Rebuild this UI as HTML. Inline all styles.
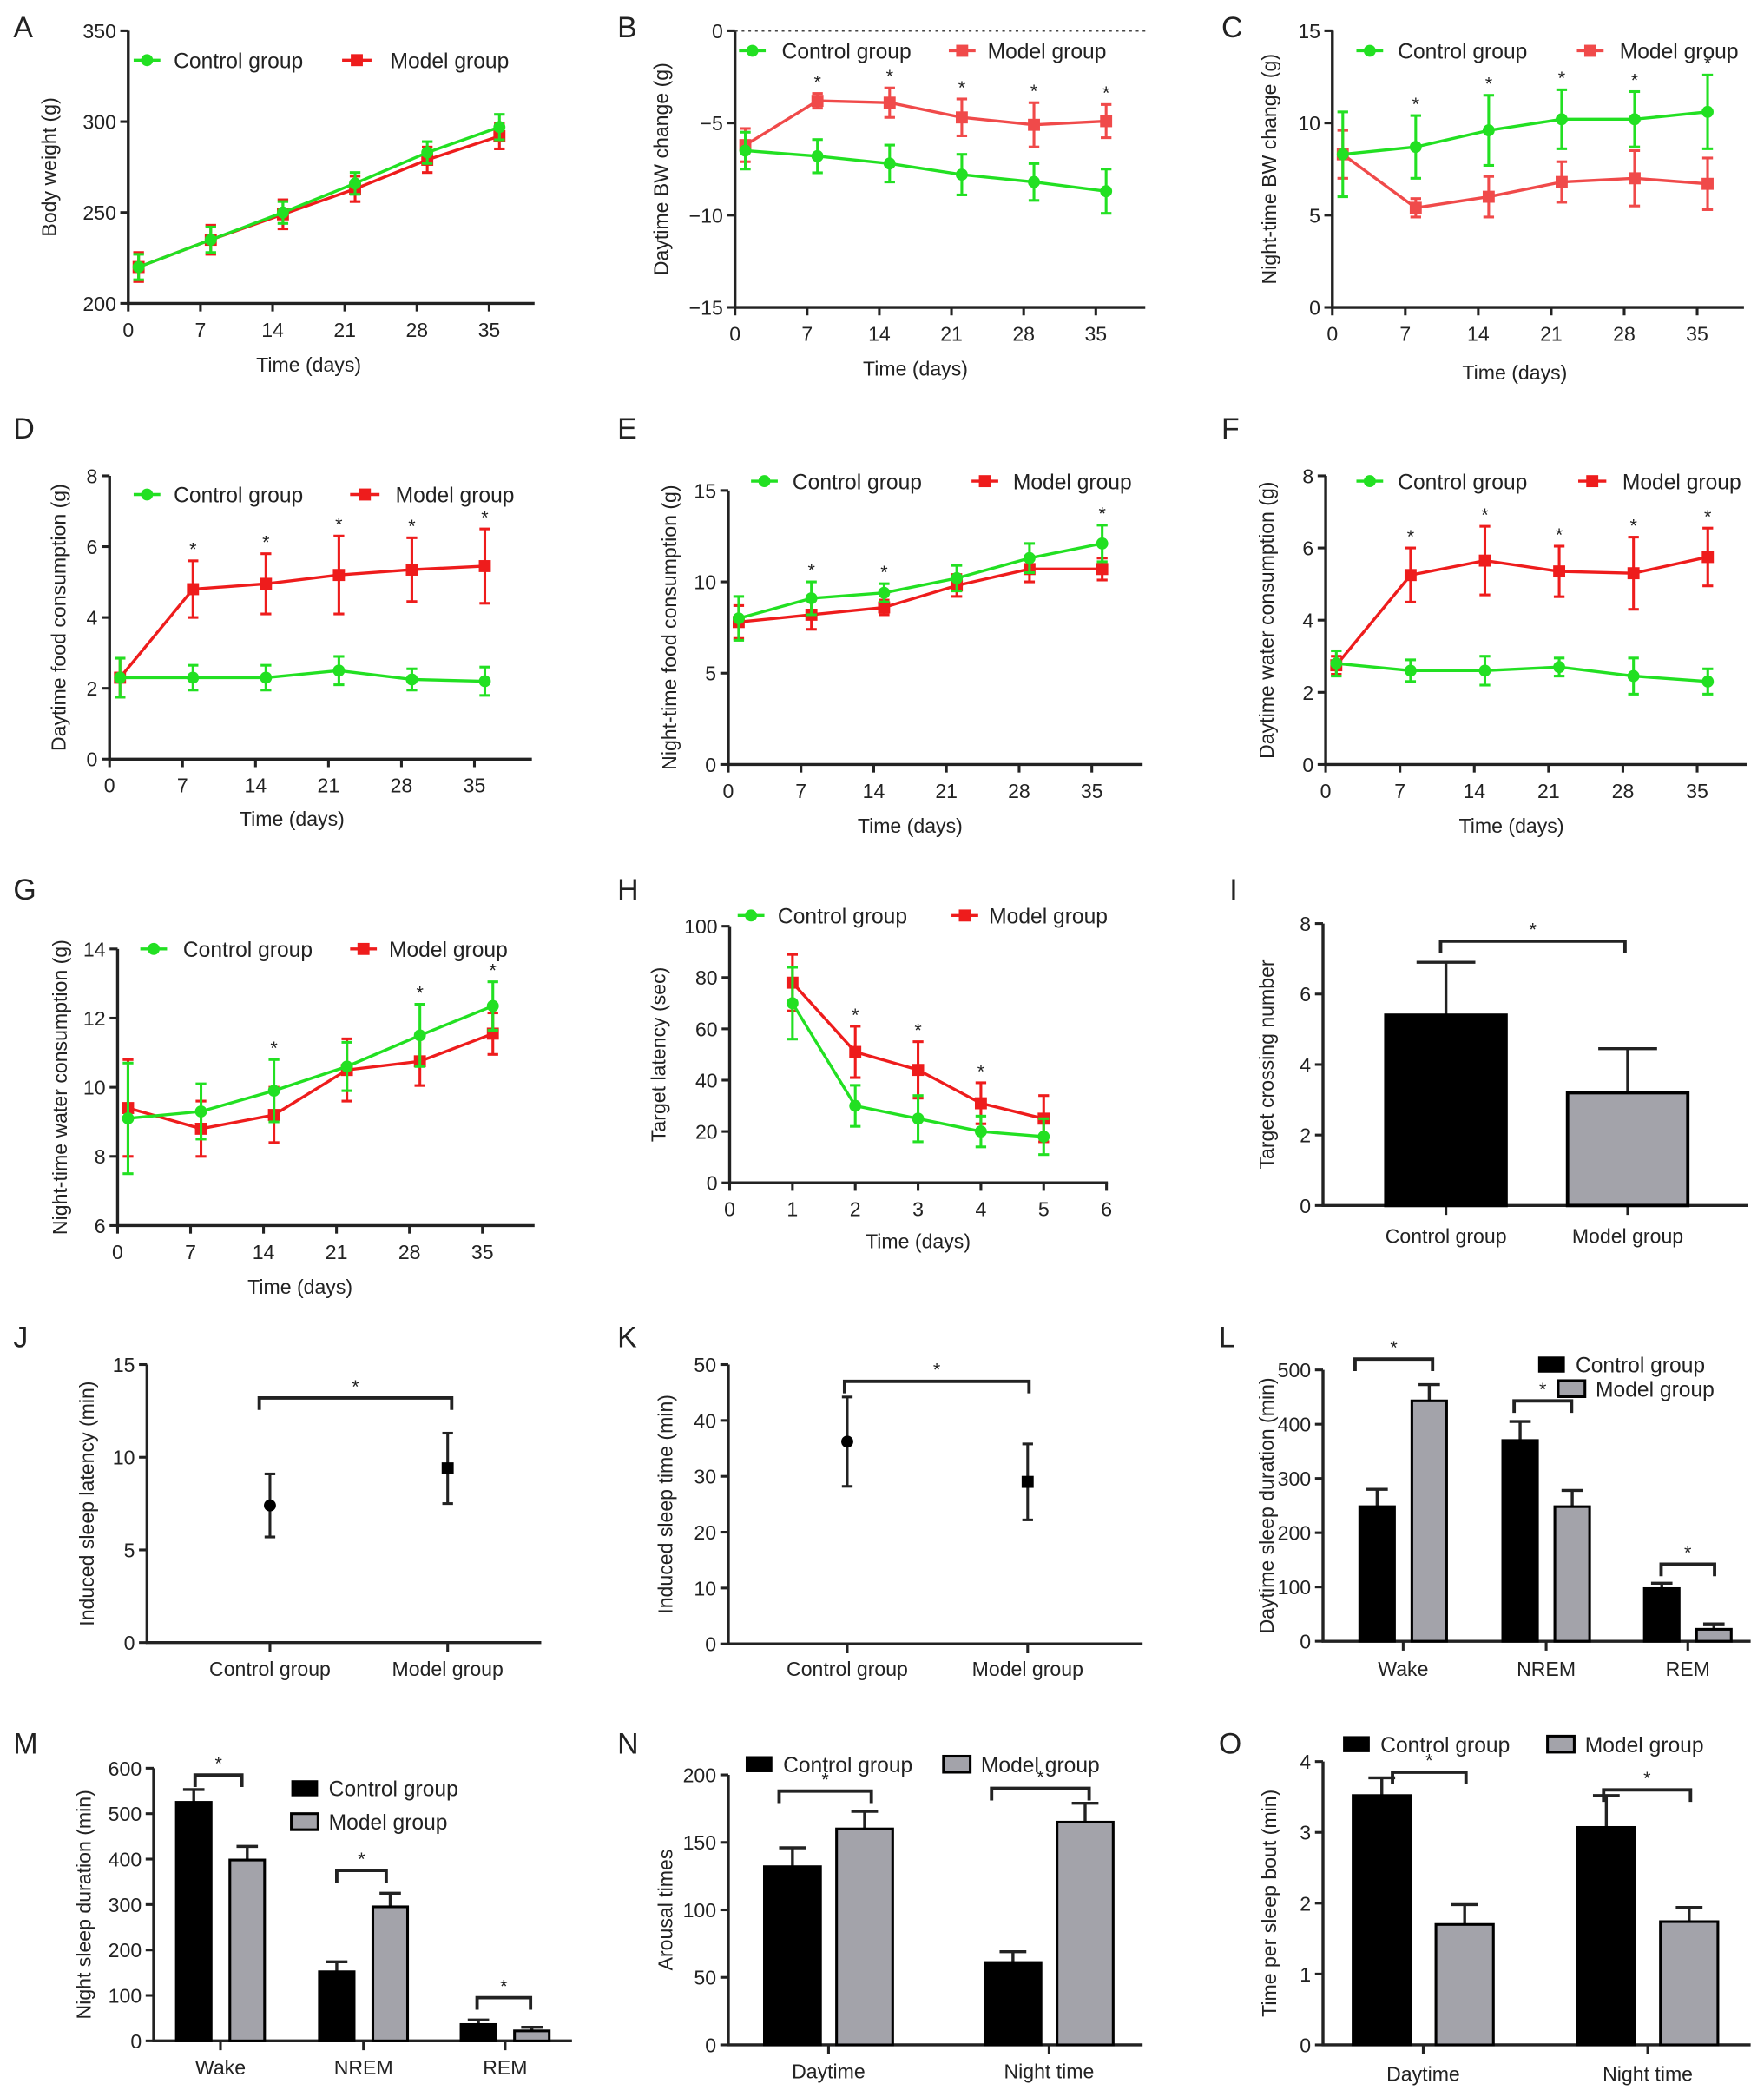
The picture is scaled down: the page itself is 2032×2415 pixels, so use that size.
<!DOCTYPE html>
<html><head><meta charset="utf-8"><style>
html,body{margin:0;padding:0;background:#fff;}
svg{display:block;font-family:"Liberation Sans",Arial,sans-serif;}
</style></head><body>
<svg id="fig" width="2032" height="2415" viewBox="0 0 1320 1569" preserveAspectRatio="none" xmlns="http://www.w3.org/2000/svg"></svg>
<script>
// ---------- data ----------
const days=[1,8,15,22,29,36];
const dayTicks=[0,7,14,21,28,35];
const aControl=[220,235,250,266,283,297], aControlErr=[7,7,6,6,6,7];
const aModel=[220,235,249,263,279,292], aModelErr=[8,8,8,7,7,7];
const bControl=[-6.5,-6.8,-7.2,-7.8,-8.2,-8.7], bControlErr=[1,0.9,1,1.1,1,1.2];
const bModel=[-6.2,-3.8,-3.9,-4.7,-5.1,-4.9], bModelErr=[0.9,0.4,0.8,1,1.2,0.9];
const cControl=[8.3,8.7,9.6,10.2,10.2,10.6], cControlErr=[2.3,1.7,1.9,1.6,1.5,2.0];
const cModel=[8.3,5.4,6.0,6.8,7.0,6.7], cModelErr=[1.3,0.5,1.1,1.1,1.5,1.4];
const dControl=[2.3,2.3,2.3,2.5,2.25,2.2], dControlErr=[0.55,0.35,0.35,0.4,0.3,0.4];
const dModel=[2.3,4.8,4.95,5.2,5.35,5.45], dModelErr=[0.55,0.8,0.85,1.1,0.9,1.05];
const eControl=[8.0,9.1,9.4,10.2,11.3,12.1], eControlErr=[1.2,0.9,0.5,0.7,0.8,1.0];
const eModel=[7.8,8.2,8.6,9.8,10.7,10.7], eModelErr=[0.9,0.8,0.4,0.6,0.7,0.6];
const fControl=[2.8,2.6,2.6,2.7,2.45,2.3], fControlErr=[0.35,0.3,0.4,0.25,0.5,0.35];
const fModel=[2.75,5.25,5.65,5.35,5.3,5.75], fModelErr=[0.25,0.75,0.95,0.7,1.0,0.8];
const gControl=[9.1,9.3,9.9,10.6,11.5,12.35], gControlErr=[1.6,0.8,0.9,0.7,0.9,0.7];
const gModel=[9.4,8.8,9.2,10.5,10.75,11.55], gModelErr=[1.4,0.8,0.8,0.9,0.7,0.6];
const hDays=[1,2,3,4,5], hTicks=[0,1,2,3,4,5,6];
const hControl=[70,30,25,20,18], hControlErr=[14,8,9,6,7];
const hModel=[78,51,44,31,25], hModelErr=[11,10,11,8,9];
const iCats=["Control group","Model group"], iValues=[5.4,3.2], iErr=[1.5,1.25];
const jCats=["Control group","Model group"], jValues=[7.4,9.4], jErr=[1.7,1.9];
const kCats=["Control group","Model group"], kValues=[36.2,29], kErr=[8,6.8];
const sleepCats=["Wake","NREM","REM"];
const lControl=[248,370,97], lControlErr=[32,35,10], lModel=[443,248,22], lModelErr=[30,30,10];
const mControl=[525,152,36], mControlErr=[28,22,10], mModel=[398,295,22], mModelErr=[30,30,8];
const timeCats=["Daytime","Night time"];
const nControl=[132,61], nControlErr=[14,8], nModel=[160,165], nModelErr=[13,14];
const oControl=[3.52,3.07], oControlErr=[0.25,0.45], oModel=[1.7,1.74], oModelErr=[0.28,0.2];

// ---------- helpers ----------
const NS="http://www.w3.org/2000/svg";
const svg=document.getElementById('fig');
const GREEN="#22e022", RED="#ee1c1c", LRED="#f04a4a", GRAY="#a3a3aa", TXT="#222";
function mk(tag,attrs,parent,name,inter){
  const e=document.createElementNS(NS,tag);
  for(const k in attrs) e.setAttribute(k,attrs[k]);
  
  
  (parent||svg).appendChild(e);
  return e;
}
function txt(s,x,y,size,parent,name,anchor,extra){
  const t=mk('text',Object.assign({x:x,y:y,'font-size':size,fill:TXT,'text-anchor':anchor||'middle'},extra||{}),parent,name,false);
  t.textContent=s;return t;
}
function line(x1,y1,x2,y2,col,w,parent,name,extra){
  return mk('line',Object.assign({x1:x1,y1:y1,x2:x2,y2:y2,stroke:col,'stroke-width':w},extra||{}),parent,name,false);
}
function fmt(v){return v<0?'\u2212'+(-v):String(v);}

function axes(g,P,sy,sx){
  // y axis
  line(P.ax,P.yTop,P.ax,P.yBot,TXT,2.2,g,'y-axis-line');
  P.yticks.forEach(v=>{const y=sy(v);line(P.ax-6,y,P.ax,y,TXT,2,g,'y-tick');
    txt(fmt(v),P.ax-9,y+5.5,15,g,'y-tick-label','end');});
  // x axis
  line(P.ax-1,P.yBot,P.xEnd,P.yBot,TXT,2.2,g,'x-axis-line');
  txt(P.ylabel,0,0,15,g,'y-axis-title','middle',{transform:`translate(${P.ylx},${(P.yTop+P.yBot)/2}) rotate(-90)`});
  txt(P.letter,P.lx,P.ly,22,g,'panel-label','start');
}

function linePanel(P){
  const g=mk('g',{},svg,'panel-'+P.letter.toLowerCase(),false);
  const sy=v=>P.yBot-(v-P.ymin)/(P.ymax-P.ymin)*(P.yBot-P.yTop);
  const sx=v=>P.ax+(v-P.xmin)/(P.xmax-P.xmin)*(P.xAtMax-P.ax);
  axes(g,P,sy,sx);
  P.xticks.forEach(v=>{const x=sx(v);line(x,P.yBot,x,P.yBot+6,TXT,2,g,'x-tick');
    txt(String(v),x,P.yBot+25,15,g,'x-tick-label');});
  txt('Time (days)',(P.ax+P.xAtMax)/2+(P.xtOff||0),P.xty,15,g,'x-axis-title');
  if(P.zeroLine) line(P.ax,sy(0),P.xEnd,sy(0),'#444',1.5,g,'zero-reference-line',{'stroke-dasharray':'2,3'});
  const series=[
    {vals:P.model,err:P.modelErr,col:P.mcol||RED,sq:true,name:'model'},
    {vals:P.control,err:P.controlErr,col:GREEN,sq:false,name:'control'}];
  series.forEach(s=>{
    const sg=mk('g',{},g,s.name+'-series',false);
    const pts=P.xs.map((d,i)=>sx(d)+','+sy(s.vals[i])).join(' ');
    mk('polyline',{points:pts,fill:'none',stroke:s.col,'stroke-width':2.2},sg,s.name+'-line',false);
    P.xs.forEach((d,i)=>{
      const x=sx(d),y=sy(s.vals[i]),t=sy(s.vals[i]+s.err[i]),b=sy(s.vals[i]-s.err[i]);
      line(x,t,x,b,s.col,2,sg,s.name+'-error-bar');
      line(x-4,t,x+4,t,s.col,2,sg,s.name+'-error-cap');
      line(x-4,b,x+4,b,s.col,2,sg,s.name+'-error-cap');
      if(s.sq) mk('rect',{x:x-4.5,y:y-4.5,width:9,height:9,fill:s.col},sg,s.name+'-point',false);
      else mk('circle',{cx:x,cy:y,r:4.5,fill:s.col},sg,s.name+'-point',false);
    });
  });
  P.stars.forEach(i=>{
    const top=Math.min(sy(P.control[i]+P.controlErr[i]),sy(P.model[i]+P.modelErr[i]));
    txt('*',sx(P.xs[i]),top-4,14,g,'significance-star');
  });
  // legend
  const L=P.leg;
  line(L.c[0],L.y,L.c[1],L.y,GREEN,2.2,g,'legend-control-line');
  mk('circle',{cx:(L.c[0]+L.c[1])/2,cy:L.y,r:4.5,fill:GREEN},g,'legend-control-marker',false);
  txt('Control group',L.c[2],L.y+6,16,g,'legend-control-label','start');
  line(L.m[0],L.y,L.m[1],L.y,P.mcol||RED,2.2,g,'legend-model-line');
  mk('rect',{x:(L.m[0]+L.m[1])/2-4.5,y:L.y-4.5,width:9,height:9,fill:P.mcol||RED},g,'legend-model-marker',false);
  txt('Model group',L.m[2],L.y+6,16,g,'legend-model-label','start');
}

function catAxis(g,P,cx){
  P.cats.forEach((c,i)=>{const x=cx[i];line(x,P.yBot,x,P.yBot+7,TXT,2,g,'x-tick');
    txt(c,x,P.catY,15,g,'x-category-label');});
}
function bracket(g,x1,x2,y,name){
  mk('polyline',{points:`${x1},${y+9} ${x1},${y} ${x2},${y} ${x2},${y+9}`,fill:'none',stroke:TXT,'stroke-width':2.5},g,name,false);
  txt('*',(x1+x2)/2,y-4,14,g,'significance-star');
}

function barPanel(P){
  const g=mk('g',{},svg,'panel-'+P.letter.toLowerCase(),false);
  const sy=v=>P.yBot-(v-P.ymin)/(P.ymax-P.ymin)*(P.yBot-P.yTop);
  axes(g,P,sy);
  catAxis(g,P,P.centers);
  const sets=P.single?[{v:P.values,e:P.err,fill:null}]:[{v:P.control,e:P.controlErr,fill:'#000',off:-P.off,name:'control'},{v:P.model,e:P.modelErr,fill:GRAY,off:P.off,name:'model'}];
  if(P.single){
    P.values.forEach((v,i)=>{
      const x=P.centers[i],y=sy(v),t=sy(v+P.err[i]);
      line(x,t,x,y,TXT,2.2,g,'error-bar');line(x-P.cap,t,x+P.cap,t,TXT,2.2,g,'error-cap');
      mk('rect',{x:x-P.bw/2,y:y,width:P.bw,height:P.yBot-y,fill:i==0?'#000':GRAY,stroke:'#000','stroke-width':2.5},g,'bar-'+(i==0?'control':'model'),false);
    });
  } else {
    sets.forEach(s=>{
      s.v.forEach((v,i)=>{
        const x=P.centers[i]+s.off,y=sy(v),t=sy(v+s.e[i]);
        line(x,t,x,y,TXT,2.2,g,s.name+'-error-bar');line(x-P.cap,t,x+P.cap,t,TXT,2.2,g,s.name+'-error-cap');
        mk('rect',{x:x-P.bw/2,y:y,width:P.bw,height:P.yBot-y,fill:s.fill,stroke:'#000','stroke-width':2},g,'bar-'+s.name+'-'+i,false);
      });
    });
  }
  P.brackets.forEach(b=>bracket(g,b[0],b[1],sy(b[2]),'significance-bracket'));
  if(P.leg){
    const L=P.leg;
    mk('rect',{x:L.c[0],y:L.c[1]-6,width:20,height:12,fill:'#000'},g,'legend-control-swatch',false);
    txt('Control group',L.c[0]+28,L.c[1]+6,16,g,'legend-control-label','start');
    mk('rect',{x:L.m[0],y:L.m[1]-6,width:20,height:12,fill:GRAY,stroke:'#000','stroke-width':2},g,'legend-model-swatch',false);
    txt('Model group',L.m[0]+28,L.m[1]+6,16,g,'legend-model-label','start');
  }
}

function dotPanel(P){
  const g=mk('g',{},svg,'panel-'+P.letter.toLowerCase(),false);
  const sy=v=>P.yBot-(v-P.ymin)/(P.ymax-P.ymin)*(P.yBot-P.yTop);
  axes(g,P,sy);
  catAxis(g,P,P.centers);
  P.values.forEach((v,i)=>{
    const x=P.centers[i],y=sy(v),t=sy(v+P.err[i]),b=sy(v-P.err[i]);
    line(x,t,x,b,TXT,2,g,'error-bar');line(x-4,t,x+4,t,TXT,2,g,'error-cap');line(x-4,b,x+4,b,TXT,2,g,'error-cap');
    if(i==0) mk('circle',{cx:x,cy:y,r:4.5,fill:'#000'},g,'control-point',false);
    else mk('rect',{x:x-4.5,y:y-4.5,width:9,height:9,fill:'#000'},g,'model-point',false);
  });
  P.brackets.forEach(b=>bracket(g,b[0],b[1],sy(b[2]),'significance-bracket'));
}

// ---------- panels ----------
linePanel({letter:'A',lx:10,ly:28,ax:96,xEnd:400,yTop:23,yBot:227,ymin:200,ymax:350,yticks:[200,250,300,350],
  xmin:0,xmax:35,xAtMax:366,xticks:dayTicks,xs:days,ylx:42,xty:278,ylabel:'Body weight (g)',
  control:aControl,controlErr:aControlErr,model:aModel,modelErr:aModelErr,stars:[],
  leg:{y:45,c:[100,120,130],m:[256,278,292]}});
linePanel({letter:'B',lx:462,ly:28,ax:550,xEnd:857,yTop:23,yBot:230,ymin:-15,ymax:0,yticks:[-15,-10,-5,0],
  xmin:0,xmax:35,xAtMax:820,xticks:dayTicks,xs:days,ylx:500,xty:281,ylabel:'Daytime BW change (g)',zeroLine:true,mcol:LRED,
  control:bControl,controlErr:bControlErr,model:bModel,modelErr:bModelErr,stars:[1,2,3,4,5],
  leg:{y:38,c:[553,573,585],m:[710,730,739]}});
linePanel({letter:'C',lx:914,ly:28,ax:997,xEnd:1305,yTop:23,yBot:230,ymin:0,ymax:15,yticks:[0,5,10,15],
  xmin:0,xmax:35,xAtMax:1270,xticks:dayTicks,xs:days,ylx:955,xty:284,ylabel:'Night-time BW change (g)',mcol:LRED,
  control:cControl,controlErr:cControlErr,model:cModel,modelErr:cModelErr,stars:[1,2,3,4,5],
  leg:{y:38,c:[1015,1035,1046],m:[1180,1200,1212]}});
linePanel({letter:'D',lx:10,ly:328,ax:82,xEnd:398,yTop:356,yBot:568,ymin:0,ymax:8,yticks:[0,2,4,6,8],
  xmin:0,xmax:35,xAtMax:355,xticks:dayTicks,xs:days,ylx:49,xty:618,ylabel:'Daytime food consumption (g)',
  control:dControl,controlErr:dControlErr,model:dModel,modelErr:dModelErr,stars:[1,2,3,4,5],
  leg:{y:370,c:[100,120,130],m:[262,284,296]}});
linePanel({letter:'E',lx:462,ly:328,ax:545,xEnd:855,yTop:367,yBot:572,ymin:0,ymax:15,yticks:[0,5,10,15],
  xmin:0,xmax:35,xAtMax:817,xticks:dayTicks,xs:days,ylx:506,xty:623,ylabel:'Night-time food consumption (g)',
  control:eControl,controlErr:eControlErr,model:eModel,modelErr:eModelErr,stars:[1,2,5],
  leg:{y:360,c:[562,582,593],m:[727,747,758]}});
linePanel({letter:'F',lx:914,ly:328,ax:992,xEnd:1307,yTop:356,yBot:572,ymin:0,ymax:8,yticks:[0,2,4,6,8],
  xmin:0,xmax:35,xAtMax:1270,xticks:dayTicks,xs:days,ylx:953,xty:623,ylabel:'Daytime water consumption (g)',
  control:fControl,controlErr:fControlErr,model:fModel,modelErr:fModelErr,stars:[1,2,3,4,5],
  leg:{y:360,c:[1015,1035,1046],m:[1181,1202,1214]}});
linePanel({letter:'G',lx:10,ly:673,ax:88,xEnd:400,yTop:710,yBot:917,ymin:6,ymax:14,yticks:[6,8,10,12,14],
  xmin:0,xmax:35,xAtMax:361,xticks:dayTicks,xs:days,ylx:50,xty:968,ylabel:'Night-time water consumption (g)',
  control:gControl,controlErr:gControlErr,model:gModel,modelErr:gModelErr,stars:[2,4,5],
  leg:{y:710,c:[105,125,137],m:[262,282,291]}});
linePanel({letter:'H',lx:462,ly:673,ax:546,xEnd:829,yTop:693,yBot:885,ymin:0,ymax:100,yticks:[0,20,40,60,80,100],
  xmin:0,xmax:6,xAtMax:828,xticks:hTicks,xs:hDays,ylx:498,xty:934,ylabel:'Target latency (sec)',
  control:hControl,controlErr:hControlErr,model:hModel,modelErr:hModelErr,stars:[1,2,3],
  leg:{y:685,c:[552,572,582],m:[712,732,740]}});
barPanel({letter:'I',lx:920,ly:673,ax:990,xEnd:1308,yTop:691,yBot:902,ymin:0,ymax:8,yticks:[0,2,4,6,8],
  ylx:953,ylabel:'Target crossing number',single:true,cats:iCats,catY:930,centers:[1082,1218],bw:90,cap:22,
  values:iValues,err:iErr,brackets:[[1078,1216,7.5]]});
dotPanel({letter:'J',lx:10,ly:1008,ax:110,xEnd:405,yTop:1021,yBot:1229,ymin:0,ymax:15,yticks:[0,5,10,15],
  ylx:70,ylabel:'Induced sleep latency (min)',cats:jCats,catY:1254,centers:[202,335],
  values:jValues,err:jErr,brackets:[[194,338,13.2]]});
dotPanel({letter:'K',lx:462,ly:1008,ax:545,xEnd:855,yTop:1021,yBot:1230,ymin:0,ymax:50,yticks:[0,10,20,30,40,50],
  ylx:503,ylabel:'Induced sleep time (min)',cats:kCats,catY:1254,centers:[634,769],
  values:kValues,err:kErr,brackets:[[632,770,47]]});
barPanel({letter:'L',lx:912,ly:1008,ax:990,xEnd:1310,yTop:1025,yBot:1228,ymin:0,ymax:500,yticks:[0,100,200,300,400,500],
  ylx:953,ylabel:'Daytime sleep duration (min)',cats:sleepCats,catY:1254,centers:[1050,1157,1263],off:19.5,bw:26,cap:8,
  control:lControl,controlErr:lControlErr,model:lModel,modelErr:lModelErr,
  brackets:[[1014,1072,520],[1133,1176,443],[1243,1283,142]],leg:{c:[1151,1021],m:[1166,1039]}});
barPanel({letter:'M',lx:10,ly:1312,ax:115,xEnd:428,yTop:1323,yBot:1527,ymin:0,ymax:600,yticks:[0,100,200,300,400,500,600],
  ylx:68,ylabel:'Night sleep duration (min)',cats:sleepCats,catY:1552,centers:[165,272,378],off:20,bw:26,cap:8,
  control:mControl,controlErr:mControlErr,model:mModel,modelErr:mModelErr,
  brackets:[[146,181,585],[252,289,375],[357,397,95]],leg:{c:[218,1338],m:[218,1363]}});
barPanel({letter:'N',lx:462,ly:1312,ax:545,xEnd:855,yTop:1328,yBot:1530,ymin:0,ymax:200,yticks:[0,50,100,150,200],
  ylx:503,ylabel:'Arousal times',cats:timeCats,catY:1555,centers:[620,785],off:27,bw:42,cap:10,
  control:nControl,controlErr:nControlErr,model:nModel,modelErr:nModelErr,
  brackets:[[583,652,188],[742,815,190]],leg:{c:[558,1320],m:[706,1320]}});
barPanel({letter:'O',lx:912,ly:1312,ax:990,xEnd:1310,yTop:1318,yBot:1530,ymin:0,ymax:4,yticks:[0,1,2,3,4],
  ylx:955,ylabel:'Time per sleep bout (min)',cats:timeCats,catY:1557,centers:[1065,1233],off:31,bw:43,cap:10,
  control:oControl,controlErr:oControlErr,model:oModel,modelErr:oModelErr,
  brackets:[[1042,1097,3.85],[1200,1265,3.6]],leg:{c:[1005,1305],m:[1158,1305]}});
</script>
</body></html>
